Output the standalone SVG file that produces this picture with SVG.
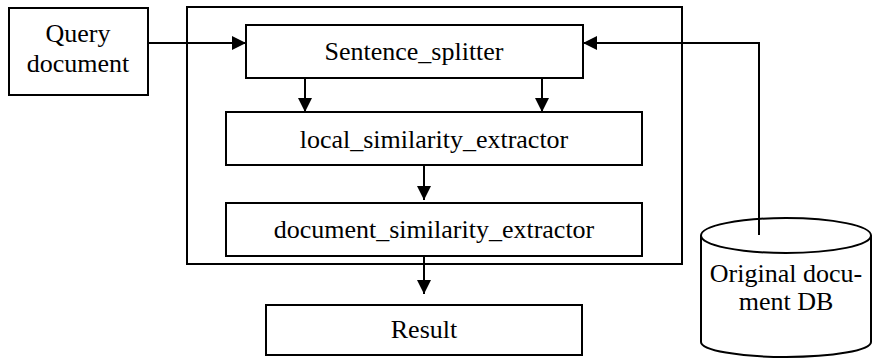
<svg xmlns="http://www.w3.org/2000/svg" width="873" height="359" viewBox="0 0 873 359">
<defs>
<marker id="ah" viewBox="0 0 14 14" refX="14" refY="7" markerWidth="14" markerHeight="14" markerUnits="userSpaceOnUse" orient="auto">
<path d="M0,0 L14,7 L0,14 Z" fill="#000"/>
</marker>
<style>
.box{fill:#fff;stroke:#000;stroke-width:2}
.t{font-family:'Liberation Serif','Times New Roman',Tinos,'Noto Serif','DejaVu Serif',FreeSerif,Times,serif;font-size:26px;fill:#000;text-anchor:middle}
.c{fill:none;stroke:#000;stroke-width:2}
</style>
</defs>
<rect width="873" height="359" fill="#fff"/>
<g id="container"><rect class="box" x="187" y="7" width="495" height="257"/></g>
<g id="query"><rect class="box" x="9" y="8" width="139" height="87"/><text class="t" x="78" y="42">Query</text><text class="t" x="78" y="72">document</text></g>
<g id="splitter"><rect class="box" x="246" y="25" width="337" height="53"/><text class="t" x="414" y="60">Sentence_splitter</text></g>
<g id="local"><rect class="box" x="226" y="112" width="416" height="53"/><text class="t" x="434" y="148">local_similarity_extractor</text></g>
<g id="docsim"><rect class="box" x="226" y="203" width="416" height="53"/><text class="t" x="434" y="238">document_similarity_extractor</text></g>
<g id="result"><rect class="box" x="266" y="305" width="316" height="50"/><text class="t" x="424" y="338">Result</text></g>
<g id="db">
<path class="box" d="M701,235.5 L701,342 A85,15 0 0 0 871,342 L871,235.5"/>
<ellipse class="box" cx="786" cy="235.5" rx="85" ry="17.5"/>
<text class="t" x="786" y="282">Original docu-</text><text class="t" x="786" y="310">ment DB</text>
</g>
<g id="connectors">
<path class="c" d="M148,43 L246,43" marker-end="url(#ah)"/>
<path class="c" d="M759,235 L759,43 L583,43" marker-end="url(#ah)"/>
<path class="c" d="M305,78 L305,112" marker-end="url(#ah)"/>
<path class="c" d="M542,78 L542,112" marker-end="url(#ah)"/>
<path class="c" d="M424,165 L424,200" marker-end="url(#ah)"/>
<path class="c" d="M424,256 L424,294" marker-end="url(#ah)"/>
</g>
</svg>
